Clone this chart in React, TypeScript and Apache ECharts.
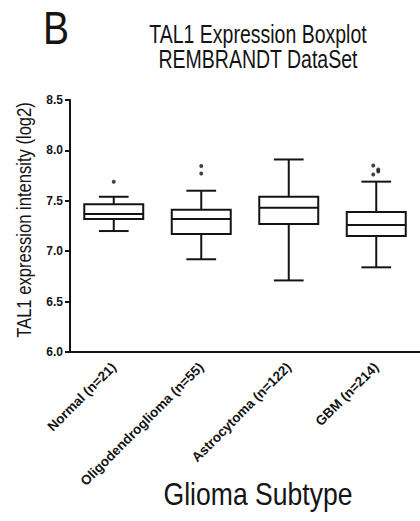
import React, { useEffect, useRef } from "react";
import * as echarts from "echarts";

const categories = ["Normal (n=21)", "Oligodendroglioma (n=55)", "Astrocytoma (n=122)", "GBM (n=214)"];
const whiskerLow = [7.2, 6.92, 6.71, 6.84];
const q1 = [7.32, 7.17, 7.27, 7.15];
const median = [7.37, 7.32, 7.43, 7.26];
const q3 = [7.465, 7.41, 7.54, 7.39];
const whiskerHigh = [7.54, 7.6, 7.91, 7.69];
// outliers: [category index, value, horizontal jitter px]
const outliers: [number, number, number][] = [
  [0, 7.69, 0],
  [1, 7.845, 0],
  [1, 7.77, 0],
  [3, 7.85, -3],
  [3, 7.81, 2],
  [3, 7.79, 2],
  [3, 7.76, -3],
];
const yTicks = ["6.0", "6.5", "7.0", "7.5", "8.0", "8.5"];

const INK = "#141414";
const SANS = "'Liberation Sans', Arial, sans-serif";

export default function App() {
  const ref = useRef<HTMLDivElement>(null);
  useEffect(() => {
    if (!ref.current) return;
    const chart = echarts.init(ref.current, null, { renderer: "svg" });
    const boxData = categories.map((_, i) => [i, whiskerLow[i], q1[i], median[i], q3[i], whiskerHigh[i]]);
    chart.setOption({
      animation: false,
      backgroundColor: "#ffffff",
      grid: { left: 70, top: 100, width: 356, height: 252, containLabel: false },
      xAxis: {
        type: "category",
        data: categories,
        boundaryGap: true,
        axisLine: { lineStyle: { color: INK, width: 2 } },
        axisTick: { alignWithLabel: true, length: 5, lineStyle: { color: INK, width: 2 } },
        axisLabel: {
          rotate: 45,
          interval: 0,
          margin: 13,
          color: INK,
          fontFamily: SANS,
          fontWeight: "bold",
          fontSize: 13.5,
        },
        splitLine: { show: false },
      },
      yAxis: {
        type: "value",
        min: 6.0,
        max: 8.5,
        interval: 0.5,
        axisLine: { show: true, lineStyle: { color: INK, width: 2 } },
        axisTick: { show: true, length: 5, lineStyle: { color: INK, width: 2 } },
        axisLabel: {
          color: INK,
          fontFamily: SANS,
          fontWeight: "bold",
          fontSize: 12,
          margin: 7,
          formatter: (v: number) => yTicks.find((t) => Math.abs(parseFloat(t) - v) < 1e-6) ?? v.toFixed(1),
        },
        splitLine: { show: false },
      },
      graphic: [
        {
          type: "text",
          x: 56,
          y: 5,
          scaleX: 0.85,
          style: { text: "B", fontSize: 46, fontFamily: SANS, fill: INK, textAlign: "center", textVerticalAlign: "top" },
        },
        {
          type: "text",
          x: 258,
          y: 22,
          scaleX: 0.78,
          style: {
            text: "TAL1 Expression Boxplot\nREMBRANDT DataSet",
            fontSize: 25,
            lineHeight: 25,
            fontFamily: SANS,
            fill: INK,
            textAlign: "center",
            textVerticalAlign: "top",
          },
        },
        {
          type: "text",
          x: 24,
          y: 220,
          rotation: Math.PI / 2,
          scaleX: 0.83,
          style: {
            text: "TAL1 expression intensity (log2)",
            fontSize: 20,
            fontFamily: SANS,
            fill: INK,
            textAlign: "center",
            textVerticalAlign: "middle",
          },
        },
        {
          type: "text",
          x: 258,
          y: 478,
          scaleX: 0.83,
          style: {
            text: "Glioma Subtype",
            fontSize: 32,
            fontFamily: SANS,
            fill: INK,
            textAlign: "center",
            textVerticalAlign: "top",
          },
        },
      ],
      series: [
        {
          type: "custom",
          data: boxData,
          encode: { x: 0, y: [1, 2, 3, 4, 5] },
          renderItem: (params: any, api: any) => {
            const idx = api.value(0);
            const pLo = api.coord([idx, api.value(1)]);
            const pQ1 = api.coord([idx, api.value(2)]);
            const pMed = api.coord([idx, api.value(3)]);
            const pQ3 = api.coord([idx, api.value(4)]);
            const pHi = api.coord([idx, api.value(5)]);
            const band = api.size([1, 0])[0];
            const bh = band * 0.337;
            const ch = band * 0.17;
            const cx = pMed[0];
            const ls = { stroke: INK, lineWidth: 2, fill: "none" };
            return {
              type: "group",
              children: [
                { type: "line", shape: { x1: cx, y1: pHi[1], x2: cx, y2: pQ3[1] }, style: ls },
                { type: "line", shape: { x1: cx, y1: pQ1[1], x2: cx, y2: pLo[1] }, style: ls },
                { type: "line", shape: { x1: cx - ch, y1: pHi[1], x2: cx + ch, y2: pHi[1] }, style: ls },
                { type: "line", shape: { x1: cx - ch, y1: pLo[1], x2: cx + ch, y2: pLo[1] }, style: ls },
                {
                  type: "rect",
                  shape: { x: cx - bh, y: pQ3[1], width: 2 * bh, height: pQ1[1] - pQ3[1] },
                  style: { stroke: INK, lineWidth: 2, fill: "#ffffff" },
                },
                { type: "line", shape: { x1: cx - bh, y1: pMed[1], x2: cx + bh, y2: pMed[1] }, style: ls },
              ],
            };
          },
        },
        {
          type: "scatter",
          symbol: "circle",
          symbolSize: 4,
          itemStyle: { color: INK },
          data: outliers.map(([c, v, dx]) => ({ value: [categories[c], v], symbolOffset: [dx, 0] })),
        },
      ],
    });
    return () => chart.dispose();
  }, []);
  return <div ref={ref} style={{ width: 420, height: 521, position: "absolute", left: 0, top: 0 }} />;
}
